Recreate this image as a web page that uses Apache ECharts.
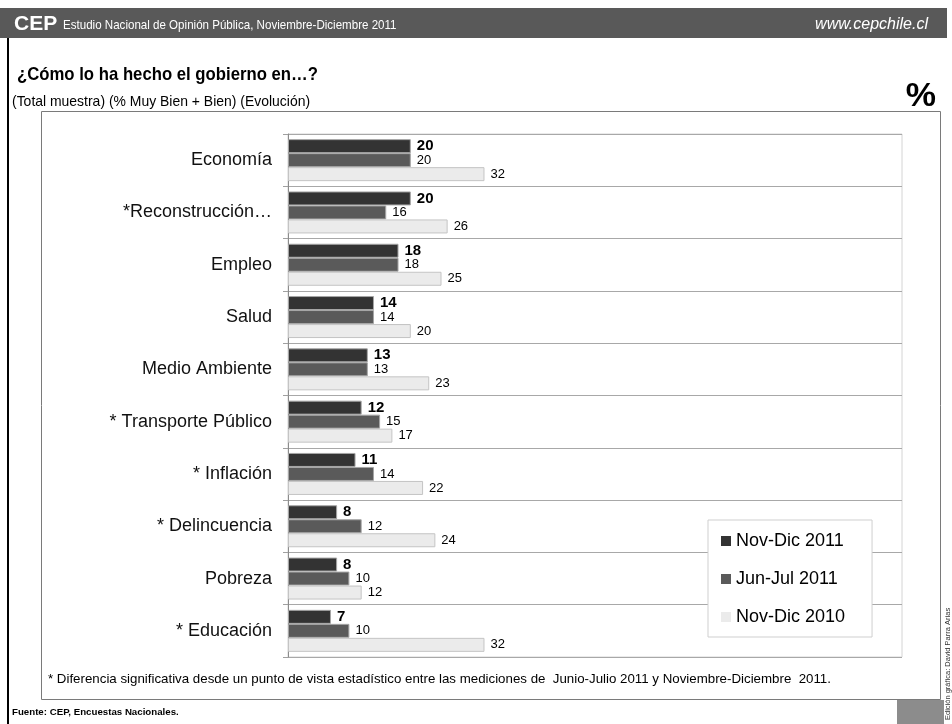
<!DOCTYPE html>
<html>
<head>
<meta charset="utf-8">
<script src="https://cdn.jsdelivr.net/npm/echarts@6/dist/echarts.min.js"></script>
<style>html,body{margin:0;padding:0;background:#fff;}#c{width:952px;height:724px;}</style>
</head>
<body>
<div id="c"></div>
<script>
const categories = ['Economía', '*Reconstrucción…', 'Empleo', 'Salud', 'Medio Ambiente', '* Transporte Público', '* Inflación', '* Delincuencia', 'Pobreza', '* Educación'];
const seriesNames = ['Nov-Dic 2011', 'Jun-Jul 2011', 'Nov-Dic 2010'];
const novDic2011 = [20, 20, 18, 14, 13, 12, 11, 8, 8, 7];
const junJul2011 = [20, 16, 18, 14, 13, 15, 14, 12, 10, 10];
const novDic2010 = [32, 26, 25, 20, 23, 17, 22, 24, 12, 32];

const FONT = 'Arial, "Liberation Sans", sans-serif';
const chart = echarts.init(document.getElementById('c'), null, {renderer: 'canvas'});

function mkSeries(name, data, color, border, bold) {
  return {
    name: name, type: 'bar', data: data,
    barWidth: 14, barGap: '0%', barCategoryGap: '20%',
    itemStyle: {color: color, borderColor: border, borderWidth: 1},
    label: {show: true, position: 'right', distance: 6, color: '#000',
      fontFamily: FONT, fontSize: bold ? 15 : 13, fontWeight: bold ? 'bold' : 'normal'},
    emphasis: {disabled: true}, animation: false
  };
}

chart.setOption({
  animation: false,
  textStyle: {fontFamily: FONT},
  grid: {left: 288, top: 134, width: 614, height: 523, show: true, borderColor: '#d4d4d4', borderWidth: 1, containLabel: false},
  xAxis: {type: 'value', min: 0, max: 100, show: false},
  yAxis: {
    type: 'category', data: categories, inverse: true,
    axisLine: {show: true, lineStyle: {color: '#8c8c8c', width: 1}},
    axisTick: {show: true, length: 5, lineStyle: {color: '#a0a0a0'}},
    splitLine: {show: true, lineStyle: {color: '#a8a8a8', width: 1}},
    axisLabel: {color: '#111', fontSize: 18, fontFamily: FONT, margin: 16}
  },
  legend: {
    orient: 'vertical', left: 708, top: 520,
    data: seriesNames,
    icon: 'rect', itemWidth: 10, itemHeight: 10, itemGap: 18,
    padding: [11, 27, 10, 13],
    backgroundColor: '#fff', borderColor: '#cfcfcf', borderWidth: 1,
    textStyle: {fontSize: 18, color: '#000', fontFamily: FONT, lineHeight: 20, padding: [0, 0, 0, 0]},
    itemStyle: {borderWidth: 0}
  },
  series: [
    mkSeries(seriesNames[0], novDic2011, '#333333', '#a6a6a6', true),
    mkSeries(seriesNames[1], junJul2011, '#5a5a5a', '#a6a6a6', false),
    mkSeries(seriesNames[2], novDic2010, '#ebebeb', '#c4c4c4', false)
  ],
  graphic: [
    {type: 'rect', z: -1, shape: {x: 0, y: 8, width: 947, height: 30}, style: {fill: '#595959'}},
    {type: 'rect', z: -1, shape: {x: 7, y: 38, width: 2, height: 686}, style: {fill: '#000'}},
    {type: 'text', x: 14, y: 24, style: {text: 'CEP', fill: '#fff', font: 'bold 21px ' + FONT, textVerticalAlign: 'middle'}},
    {type: 'text', x: 63, y: 25, scaleX: 0.89, style: {text: 'Estudio Nacional de Opinión Pública, Noviembre-Diciembre 2011', fill: '#fff', font: '13px ' + FONT, textVerticalAlign: 'middle'}},
    {type: 'text', x: 928, y: 25, style: {text: 'www.cepchile.cl', fill: '#fff', font: 'italic 16px ' + FONT, textAlign: 'right', textVerticalAlign: 'middle'}},
    {type: 'text', x: 17, y: 75, scaleX: 0.88, style: {text: '¿Cómo lo ha hecho el gobierno en…?', fill: '#000', font: 'bold 19px ' + FONT, textVerticalAlign: 'middle'}},
    {type: 'text', x: 12, y: 102, scaleX: 0.93, style: {text: '(Total muestra) (% Muy Bien + Bien) (Evolución)', fill: '#000', font: '15px ' + FONT, textVerticalAlign: 'middle'}},
    {type: 'text', x: 936, y: 97, style: {text: '%', fill: '#000', font: 'bold 34px ' + FONT, textAlign: 'right', textVerticalAlign: 'middle'}},
    {type: 'rect', z: -1, shape: {x: 41.5, y: 111.5, width: 899, height: 588}, style: {fill: 'none', stroke: '#7a7a7a', lineWidth: 1}},
    {type: 'text', x: 48, y: 679, style: {text: '* Diferencia significativa desde un punto de vista estadístico entre las mediciones de  Junio-Julio 2011 y Noviembre-Diciembre  2011.', fill: '#000', font: '13.3px ' + FONT, textVerticalAlign: 'middle'}},
    {type: 'text', x: 12, y: 712, style: {text: 'Fuente: CEP, Encuestas Nacionales.', fill: '#000', font: 'bold 9.7px ' + FONT, textVerticalAlign: 'middle'}},
    {type: 'rect', z: -1, shape: {x: 897, y: 700, width: 47, height: 24}, style: {fill: '#8c8c8c'}},
    {type: 'text', x: 948, y: 720, rotation: Math.PI / 2, style: {text: 'Edición gráfica: David Parra Arias', fill: '#333', font: '7.5px ' + FONT, textAlign: 'left', textVerticalAlign: 'middle'}}
  ]
});
</script>
</body>
</html>
